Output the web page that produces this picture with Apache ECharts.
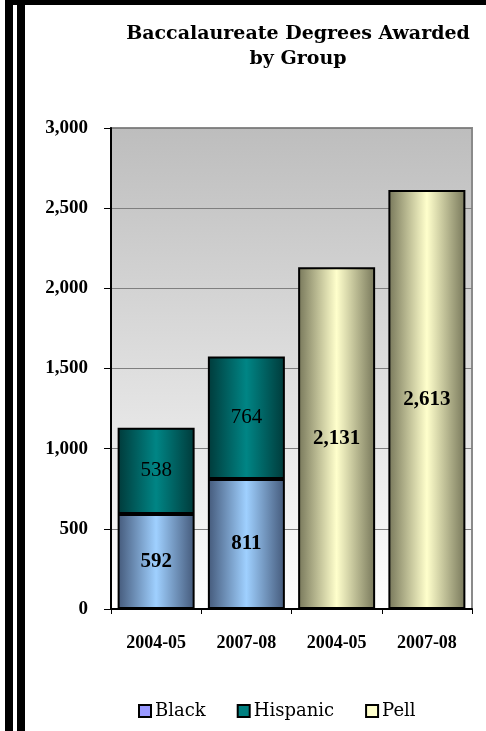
<!DOCTYPE html>
<html>
<head>
<meta charset="utf-8">
<script src="https://cdn.jsdelivr.net/npm/echarts@6/dist/echarts.min.js"></script>
<style>
  html, body { margin: 0; padding: 0; background: #fff; }
  #chart { width: 486px; height: 731px; }
</style>
</head>
<body>
<div id="chart"></div>
<script>
// Degrees awarded, by group and academic year
const years = ['2004-05', '2007-08', '2004-05', '2007-08'];
const blackValues = [592, 811, '-', '-'];
const hispanicValues = [538, 764, '-', '-'];
const pellValues = ['-', '-', 2131, 2613];
const titleText = 'Baccalaureate Degrees Awarded\nby Group';
const legendNames = ['Black', 'Hispanic', 'Pell'];

const SERIF = '"Liberation Serif", "DejaVu Serif", serif';
const SERIF_WIDE = '"DejaVu Serif", "Liberation Serif", serif';

function hGrad(edge, mid) {
  return new echarts.graphic.LinearGradient(0, 0, 1, 0, [
    { offset: 0, color: edge },
    { offset: 0.5, color: mid },
    { offset: 1, color: edge }
  ]);
}

const fmt = p => (typeof p.value === 'number' ? p.value.toLocaleString('en-US') : '');

function barSeries(name, data, edge, mid, bold) {
  return {
    name: name,
    type: 'bar',
    stack: 'all',
    data: data,
    barWidth: 77,
    itemStyle: { color: hGrad(edge, mid), borderColor: '#000', borderWidth: 2 },
    label: {
      show: true,
      position: 'inside',
      formatter: fmt,
      color: '#000',
      fontFamily: SERIF,
      fontSize: 21,
      fontWeight: bold ? 'bold' : 'normal'
    },
    emphasis: { disabled: true }
  };
}

const chart = echarts.init(document.getElementById('chart'));
chart.setOption({
  animation: false,
  backgroundColor: '#fff',
  graphic: [
    { type: 'rect', shape: { x: 5, y: 0, width: 481, height: 5 }, style: { fill: '#000' } },
    { type: 'rect', shape: { x: 5, y: 0, width: 8, height: 731 }, style: { fill: '#000' } },
    { type: 'rect', shape: { x: 17, y: 0, width: 8, height: 731 }, style: { fill: '#000' } },
    {
      type: 'text',
      x: 298,
      y: 22,
      style: {
        text: titleText,
        textAlign: 'center',
        textVerticalAlign: 'top',
        font: 'bold 19px ' + SERIF_WIDE,
        lineHeight: 25,
        fill: '#000'
      }
    }
  ],
  grid: {
    left: 111,
    top: 128,
    right: 14,
    bottom: 122,
    show: true,
    borderColor: '#8a8a8a',
    borderWidth: 2,
    backgroundColor: new echarts.graphic.LinearGradient(0, 0, 0, 1, [
      { offset: 0, color: '#bdbdbd' },
      { offset: 1, color: '#ffffff' }
    ])
  },
  legend: {
    left: 133,
    top: 697,
    itemWidth: 12,
    itemHeight: 12,
    itemGap: 31,
    icon: 'rect',
    selectedMode: false,
    textStyle: { fontFamily: SERIF_WIDE, fontSize: 18, color: '#000', padding: [0, 0, 0, -1] },
    data: [
      { name: legendNames[0], itemStyle: { color: '#9999ff', borderColor: '#000', borderWidth: 2 } },
      { name: legendNames[1], itemStyle: { color: '#008080', borderColor: '#000', borderWidth: 2 } },
      { name: legendNames[2], itemStyle: { color: '#ffffcc', borderColor: '#000', borderWidth: 2 } }
    ]
  },
  xAxis: {
    type: 'category',
    data: years,
    axisLine: { show: true, lineStyle: { color: '#000', width: 2 } },
    axisTick: { show: true, alignWithLabel: false, length: 5, lineStyle: { color: '#000', width: 1 } },
    axisLabel: { color: '#000', fontFamily: SERIF, fontSize: 18, fontWeight: 'bold', margin: 25, interval: 0 },
    splitLine: { show: false }
  },
  yAxis: {
    type: 'value',
    min: 0,
    max: 3000,
    interval: 500,
    axisLine: { show: true, lineStyle: { color: '#000', width: 2 } },
    axisTick: { show: true, length: 7, lineStyle: { color: '#000', width: 1 } },
    axisLabel: {
      color: '#000', fontFamily: SERIF, fontSize: 19, fontWeight: 'bold', margin: 23,
      formatter: v => v.toLocaleString('en-US')
    },
    splitLine: { show: true, lineStyle: { color: '#7f7f7f', width: 1 } }
  },
  series: [
    barSeries('Black', blackValues, '#44597a', '#9fd0ff', true),
    barSeries('Hispanic', hispanicValues, '#003a3a', '#008585', false),
    barSeries('Pell', pellValues, '#77775a', '#ffffcc', true)
  ]
});
</script>
</body>
</html>
